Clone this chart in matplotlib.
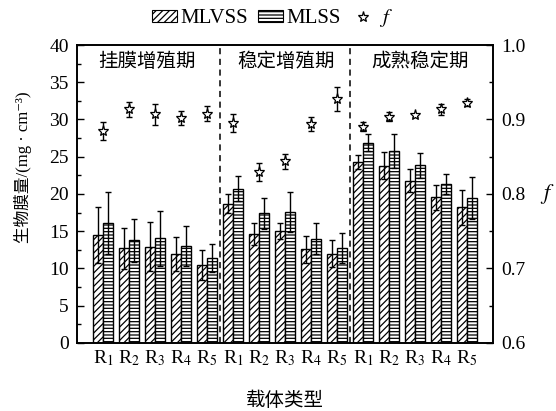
import matplotlib
matplotlib.use("Agg")
import matplotlib.pyplot as plt
import numpy as np
from matplotlib.lines import Line2D
from matplotlib.patches import Patch
from matplotlib.ticker import MultipleLocator

plt.rcParams['font.family'] = ['Liberation Serif', 'Noto Sans CJK SC', 'DejaVu Serif']
plt.rcParams['mathtext.fontset'] = 'stix'
plt.rcParams['hatch.linewidth'] = 0.9
plt.rcParams['axes.unicode_minus'] = True

# ---- data ----
stages = ['挂膜增殖期', '稳定增殖期', '成熟稳定期']
carriers = ['R$_1$', 'R$_2$', 'R$_3$', 'R$_4$', 'R$_5$']

mlvss = [14.5, 12.7, 12.9, 11.9, 10.5,
         18.7, 14.6, 15.0, 12.6, 12.0,
         24.25, 23.8, 21.8, 19.55, 18.2]
mlvss_err = [3.8, 2.8, 3.3, 2.3, 2.0,
             1.3, 1.5, 1.1, 1.8, 1.8,
             0.95, 1.8, 1.55, 1.7, 2.35]
mlss = [16.1, 13.8, 14.05, 13.0, 11.45,
        20.7, 17.4, 17.6, 14.0, 12.8,
        26.9, 25.8, 23.85, 21.4, 19.5]
mlss_err = [4.2, 2.9, 3.7, 2.7, 1.9,
            1.7, 2.1, 2.7, 2.1, 2.0,
            1.1, 2.25, 1.7, 1.35, 2.8]
f_val = [0.885, 0.914, 0.907, 0.902, 0.908,
         0.895, 0.829, 0.844, 0.8935, 0.9275,
         0.890, 0.904, 0.9056, 0.9137, 0.9225]
f_err = [0.012, 0.010, 0.014, 0.009, 0.010,
         0.012, 0.012, 0.010, 0.0095, 0.0155,
         0.006, 0.006, 0.002, 0.007, 0.005]

tick_labels = carriers * 3
x = np.arange(1, len(mlvss) + 1)
w = 0.4

fig = plt.figure(figsize=(5.56, 4.11), dpi=100)
ax = fig.add_axes([0.1385, 0.1655, 0.748, 0.725])

ax.bar(x - w / 2, mlvss, w, yerr=mlvss_err, color='white', edgecolor='black',
       hatch='/////', linewidth=1.0,
       error_kw=dict(ecolor='black', elinewidth=1.0, capsize=2.5, capthick=1.0),
       label='MLVSS', zorder=2)
ax.bar(x + w / 2, mlss, w, yerr=mlss_err, color='white', edgecolor='black',
       hatch='-----', linewidth=1.0,
       error_kw=dict(ecolor='black', elinewidth=1.0, capsize=2.5, capthick=1.0),
       label='MLSS', zorder=2)

for xv in (5.5, 10.5):
    ax.axvline(xv, color='black', linestyle=(0, (4, 3)), linewidth=1.1, zorder=3)

ax.set_xlim(0, 16)
ax.set_ylim(0, 40)
ax.set_xticks(x)
ax.set_xticklabels(tick_labels, fontsize=14)
ax.tick_params(axis='x', length=0, pad=4)
ax.yaxis.set_major_locator(MultipleLocator(5))
ax.yaxis.set_minor_locator(MultipleLocator(2.5))
ax.tick_params(axis='y', which='major', direction='in', length=5, width=1, labelsize=14, pad=6)
ax.tick_params(axis='y', which='minor', direction='in', length=3, width=1)
for s in ax.spines.values():
    s.set_linewidth(1.2)

ax.set_ylabel('生物膜量/(mg · cm⁻³)', fontsize=12)
ax.yaxis.set_label_coords(-0.108, 0.59)
ax.set_xlabel('载体类型', fontsize=14, labelpad=17)

stage_x = [2.7, 8.05, 13.2]
for sx, st in zip(stage_x, stages):
    ax.text(sx, 37.7, st, ha='center', va='center', fontsize=14)

ax2 = ax.twinx()
ax2.set_position(ax.get_position())
ax2.errorbar(x, f_val, yerr=f_err, fmt='none', ecolor='black', elinewidth=1.0,
             capsize=2.5, capthick=1.0, zorder=4)
ax2.plot(x, f_val, linestyle='none', marker='*', markersize=8,
         markerfacecolor='white', markeredgecolor='black', markeredgewidth=0.9, zorder=5)
ax2.set_ylim(0.6, 1.0)
ax2.yaxis.set_major_locator(MultipleLocator(0.1))
ax2.yaxis.set_minor_locator(MultipleLocator(0.05))
ax2.tick_params(axis='y', which='major', direction='in', length=5, width=1, labelsize=14, pad=6)
ax2.tick_params(axis='y', which='minor', direction='in', length=3, width=1)
ax2.set_yticks([0.6, 0.7, 0.8, 0.9, 1.0])
ax2.set_yticklabels(['0.6', '0.7', '0.8', '0.9', '1.0'])
for s in ax2.spines.values():
    s.set_linewidth(1.2)
fig.text(547 / 556, 1 - 194 / 411, '$f$', ha='center', va='center', fontsize=16)

handles = [Patch(facecolor='white', edgecolor='black', hatch='/////', linewidth=0.8),
           Patch(facecolor='white', edgecolor='black', hatch='-----', linewidth=0.8),
           Line2D([], [], linestyle='none', marker='*', markersize=8,
                  markerfacecolor='white', markeredgecolor='black', markeredgewidth=0.9)]
fig.legend(handles, ['MLVSS', 'MLSS', '$f$'], loc='center', ncol=3,
           bbox_to_anchor=(0.49, 0.955), frameon=False, fontsize=15,
           handlelength=1.2, handleheight=0.45, handletextpad=0.15, columnspacing=0.5)

fig.savefig('out.png', dpi=100)
